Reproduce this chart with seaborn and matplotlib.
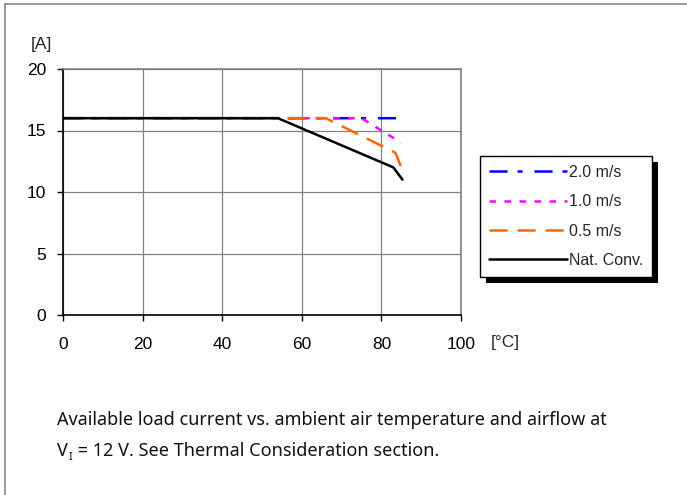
import matplotlib
matplotlib.use("Agg")
import matplotlib.pyplot as plt
import seaborn as sns
import pandas as pd
from matplotlib.lines import Line2D
from matplotlib.patches import Rectangle

# ---- data ----
series_labels = ["2.0 m/s", "1.0 m/s", "0.5 m/s", "Nat. Conv."]
temp_20 = [0, 84, 84.6]
cur_20 = [16, 16, 15.4]
temp_10 = [0, 75, 85]
cur_10 = [16, 16, 14.0]
temp_05 = [0, 66, 83.5, 85]
cur_05 = [16, 16, 13.2, 12.0]
temp_nc = [0, 54, 83, 85.3]
cur_nc = [16, 16, 12.0, 11.0]
x_ticks = [0, 20, 40, 60, 80, 100]
y_ticks = [0, 5, 10, 15, 20]

sns.set_style("white")
plt.rcParams["font.family"] = ["Liberation Sans", "DejaVu Sans"]
plt.rcParams["lines.scale_dashes"] = False

W, H = 687, 495
fig = plt.figure(figsize=(W / 100, H / 100), dpi=100)
ax = fig.add_axes([63 / W, 1 - 315 / H, (461 - 63) / W, (315 - 69) / H])

styles = [
    ("#0000FF", (0, (13, 7.2, 3.6, 8.6))),
    ("#FF00FF", (0, (4.8, 6.0))),
    ("#FF6600", (0, (13, 7.2))),
    ("#000000", "-"),
]
data = [(temp_20, cur_20), (temp_10, cur_10), (temp_05, cur_05), (temp_nc, cur_nc)]
for (tx, cy), lab, (col, ls) in zip(data, series_labels, styles):
    df = pd.DataFrame({"T": tx, "I": cy})
    sns.lineplot(data=df, x="T", y="I", color=col, linestyle=ls, linewidth=1.8,
                 ax=ax, label=lab, legend=False, sort=False)

ax.set_xlim(0, 100)
ax.set_ylim(0, 20)
ax.set_xticks(x_ticks)
ax.set_yticks(y_ticks)
ax.set_xlabel("")
ax.set_ylabel("")
ax.grid(True, color="#808080", linewidth=0.9)
ax.set_axisbelow(True)
for s in ["top", "right"]:
    ax.spines[s].set_color("#808080")
    ax.spines[s].set_linewidth(1.2)
for s in ["left", "bottom"]:
    ax.spines[s].set_color("black")
    ax.spines[s].set_linewidth(1.2)
ax.tick_params(axis="both", which="major", direction="out", length=4, width=1,
               color="black", labelsize=12.5, labelcolor="black", left=True, bottom=True)
ax.tick_params(axis="y", pad=8)
ax.tick_params(axis="x", pad=12)

fig.text(31 / W, 1 - 45 / H, "[A]", fontsize=12.5, va="center", ha="left")
fig.text(491 / W, 1 - 342 / H, "[°C]", fontsize=12.5, va="center", ha="left")

handles = ax.get_lines()[:4]
leg = fig.legend(handles, series_labels, loc="upper left",
                 bbox_to_anchor=(480 / W, 1 - 156 / H), bbox_transform=fig.transFigure,
                 borderaxespad=0, frameon=True, fancybox=False, framealpha=1,
                 edgecolor="black", fontsize=11.5, handlelength=4.9,
                 handletextpad=0.12, labelspacing=0.9, borderpad=0.55)
leg.get_frame().set_linewidth(1.0)
leg.set_zorder(10)

# outer frame (top and left)
fig.add_artist(Line2D([5 / W, 1], [1 - 4 / H, 1 - 4 / H], transform=fig.transFigure,
                      color="#888888", linewidth=1.2))
fig.add_artist(Line2D([5 / W, 5 / W], [0, 1 - 4 / H], transform=fig.transFigure,
                      color="#888888", linewidth=1.2))

cap_font = ["Noto Sans", "DejaVu Sans"]
cap_size = 13.0
fig.text(57 / W, 1 - 425 / H,
         "Available load current vs. ambient air temperature and airflow at",
         fontsize=cap_size, family=cap_font, va="baseline", ha="left", color="#111111")
t_v = fig.text(57 / W, 1 - 456 / H, "V", fontsize=cap_size, family=cap_font,
               va="baseline", ha="left", color="#111111")

fig.canvas.draw()
renderer = fig.canvas.get_renderer()
bb = leg.get_frame().get_window_extent(renderer)
bbf = bb.transformed(fig.transFigure.inverted())
shadow = Rectangle((bbf.x0 + 6 / W, bbf.y0 - 6 / H), bbf.width, bbf.height,
                   transform=fig.transFigure, facecolor="black", edgecolor="none", zorder=9)
fig.add_artist(shadow)

vb = t_v.get_window_extent(renderer)
x_sub = vb.x1 + 0.5
t_i = fig.text(x_sub / W, (H - 456 - 4) / H, "I", fontsize=cap_size * 0.6, family=cap_font,
               va="baseline", ha="left", color="#111111")
fig.canvas.draw()
ib = t_i.get_window_extent(renderer)
fig.text((ib.x1 + 1) / W, 1 - 456 / H, " = 12 V. See Thermal Consideration section.",
         fontsize=cap_size, family=cap_font, va="baseline", ha="left", color="#111111")

fig.savefig("out.png", dpi=100)
